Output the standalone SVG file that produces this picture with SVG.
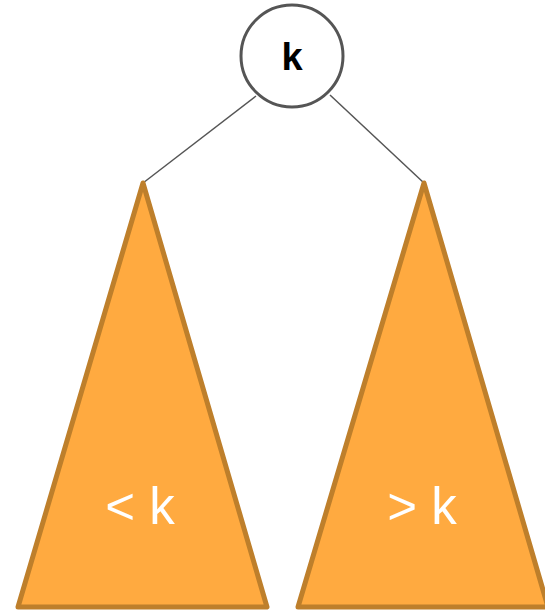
<svg xmlns="http://www.w3.org/2000/svg" width="545" height="612" viewBox="0 0 545 612">
<style>
.tri{fill:#FFAA40;stroke:#BE7F2B;stroke-width:5;stroke-linejoin:round}
.edge{stroke:#555;stroke-width:1.5;fill:none}
.lbl{font-family:"Liberation Sans",Arial,sans-serif;font-size:51px;fill:#fff;text-anchor:middle}
</style>
<rect width="545" height="612" fill="#fff"/>
<g id="connectors">
<line class="edge" x1="256" y1="96" x2="143" y2="183"/>
<line class="edge" x1="330" y1="95" x2="424" y2="183"/>
</g>
<g id="left">
<polygon class="tri" points="143,183 267,607 18,607"/>
<text class="lbl" x="140" y="524">&lt; k</text>
</g>
<g id="right">
<polygon class="tri" points="424,183 548,607 298,607"/>
<text class="lbl" x="422" y="524">&gt; k</text>
</g>
<g id="root">
<circle cx="292" cy="56" r="51" fill="#fff" stroke="#555" stroke-width="3"/>
<text x="292" y="70" font-family="Liberation Sans,Arial,sans-serif" font-weight="bold" font-size="38" text-anchor="middle" fill="#000">k</text>
</g>
</svg>
